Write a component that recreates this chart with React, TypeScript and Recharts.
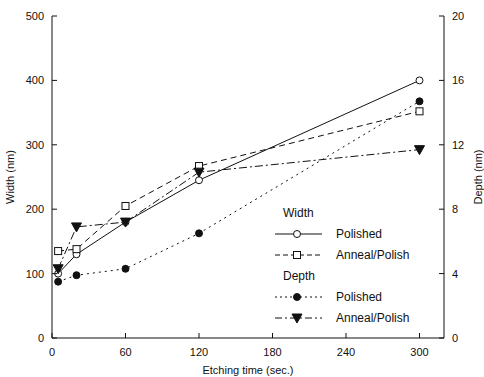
import React from "react";
import {
  LineChart,
  Line,
  XAxis,
  YAxis,
  Legend,
  Label,
} from "recharts";

const times = [5, 20, 60, 120, 300];
const widthPolished = [100, 130, 180, 245, 400];
const widthAnneal = [135, 138, 205, 267, 352];
const depthPolished = [3.5, 3.9, 4.3, 6.5, 14.7];
const depthAnneal = [4.3, 6.9, 7.2, 10.3, 11.7];

const xTicks = [0, 60, 120, 180, 240, 300];
const widthTicks = [0, 100, 200, 300, 400, 500];
const depthTicks = [0, 4, 8, 12, 16, 20];

const data = times.map((t, i) => ({
  t,
  wp: widthPolished[i],
  wa: widthAnneal[i],
  dp: depthPolished[i],
  da: depthAnneal[i],
}));

const FONT = "'Liberation Sans', Arial, sans-serif";
const INK = "#111";
const MARGIN = 8;

const OpenCircle = (props: any) => {
  const { cx, cy } = props;
  return <circle cx={cx} cy={cy} r={3.5} fill="#fff" stroke={INK} strokeWidth={1} />;
};

const OpenSquare = (props: any) => {
  const { cx, cy } = props;
  return <rect x={cx - 3.5} y={cy - 3.5} width={7} height={7} fill="#fff" stroke={INK} strokeWidth={1} />;
};

const FilledCircle = (props: any) => {
  const { cx, cy } = props;
  return <circle cx={cx} cy={cy} r={3.5} fill={INK} stroke={INK} />;
};

const DownTriangle = (props: any) => {
  const { cx, cy } = props;
  return (
    <polygon
      points={`${cx - 5},${cy - 4} ${cx + 5},${cy - 4} ${cx},${cy + 5}`}
      fill={INK}
      stroke={INK}
    />
  );
};

// ticks drawn inward, like the original plot
const LeftTick = (props: any) => {
  const { x, y, payload } = props;
  const ax = x + MARGIN;
  return (
    <g>
      <line x1={ax} x2={ax + 5} y1={y} y2={y} stroke={INK} />
      <text x={x} y={y} dy={4} textAnchor="end" fontSize={11} fill={INK} fontFamily={FONT}>
        {payload.value}
      </text>
    </g>
  );
};

const RightTick = (props: any) => {
  const { x, y, payload } = props;
  const ax = x - MARGIN;
  return (
    <g>
      <line x1={ax - 5} x2={ax} y1={y} y2={y} stroke={INK} />
      <text x={x} y={y} dy={4} textAnchor="start" fontSize={11} fill={INK} fontFamily={FONT}>
        {payload.value}
      </text>
    </g>
  );
};

const BottomTick = (props: any) => {
  const { x, y, payload } = props;
  const ay = y - MARGIN;
  return (
    <g>
      <line x1={x} x2={x} y1={ay - 5} y2={ay} stroke={INK} />
      <text x={x} y={y} dy={10} textAnchor="middle" fontSize={11} fill={INK} fontFamily={FONT}>
        {payload.value}
      </text>
    </g>
  );
};

const legendRows = [
  { header: "Width" },
  { label: "Polished", dash: undefined, marker: OpenCircle },
  { label: "Anneal/Polish", dash: "5 3", marker: OpenSquare },
  { header: "Depth" },
  { label: "Polished", dash: "2 3", marker: FilledCircle },
  { label: "Anneal/Polish", dash: "7 3 2 3", marker: DownTriangle },
];

const ChartLegend = () => (
  <svg width={200} height={125} style={{ fontFamily: FONT, fontSize: 12 }}>
    {legendRows.map((row, i) => {
      const y = 10 + i * 21;
      if (row.header) {
        return (
          <text key={i} x={13} y={y + 4} fill={INK}>
            {row.header}
          </text>
        );
      }
      const M = row.marker!;
      return (
        <g key={i}>
          <line x1={5} x2={52} y1={y} y2={y} stroke={INK} strokeDasharray={row.dash} />
          <M cx={27} cy={y} />
          <text x={66} y={y + 4} fill={INK}>
            {row.label}
          </text>
        </g>
      );
    })}
  </svg>
);

export default function App() {
  return (
    <div style={{ position: "absolute", left: 0, top: 0, fontFamily: FONT }}>
      <LineChart
        width={484}
        height={377}
        data={data}
        margin={{ top: 16, right: 10, left: 10, bottom: 0 }}
      >
        <XAxis
          dataKey="t"
          type="number"
          domain={[0, 320]}
          ticks={xTicks}
          tick={<BottomTick />}
          tickLine={false}
          tickSize={0}
          tickMargin={MARGIN}
          stroke={INK}
          height={39}
        >
          <Label value="Etching time (sec.)" position="insideBottom" offset={3} style={{ fontSize: 11, fill: INK }} />
        </XAxis>
        <YAxis
          yAxisId="w"
          domain={[0, 500]}
          ticks={widthTicks}
          tick={<LeftTick />}
          tickLine={false}
          tickSize={0}
          tickMargin={MARGIN}
          stroke={INK}
          width={42}
        >
          <Label value="Width (nm)" angle={-90} position="insideLeft" offset={0} style={{ fontSize: 11, fill: INK, textAnchor: "middle" }} />
        </YAxis>
        <YAxis
          yAxisId="d"
          orientation="right"
          domain={[0, 20]}
          ticks={depthTicks}
          tick={<RightTick />}
          tickLine={false}
          tickSize={0}
          tickMargin={MARGIN}
          stroke={INK}
          width={30}
        >
          <Label value="Depth (nm)" angle={-90} position="insideRight" offset={-4} style={{ fontSize: 11, fill: INK, textAnchor: "middle" }} />
        </YAxis>
        <Legend
          layout="horizontal"
          verticalAlign="middle"
          content={<ChartLegend />}
          wrapperStyle={{ position: "absolute", left: 270, top: 203, width: 200 }}
        />
        <Line
          yAxisId="w"
          dataKey="wp"
          stroke={INK}
          strokeWidth={1}
          dot={<OpenCircle />}
          isAnimationActive={false}
        />
        <Line
          yAxisId="w"
          dataKey="wa"
          stroke={INK}
          strokeWidth={1}
          strokeDasharray="6 4"
          dot={<OpenSquare />}
          isAnimationActive={false}
        />
        <Line
          yAxisId="d"
          dataKey="dp"
          stroke={INK}
          strokeWidth={1}
          strokeDasharray="2 4"
          dot={<FilledCircle />}
          isAnimationActive={false}
        />
        <Line
          yAxisId="d"
          dataKey="da"
          stroke={INK}
          strokeWidth={1}
          strokeDasharray="8 3 2 3"
          dot={<DownTriangle />}
          isAnimationActive={false}
        />
      </LineChart>
    </div>
  );
}
